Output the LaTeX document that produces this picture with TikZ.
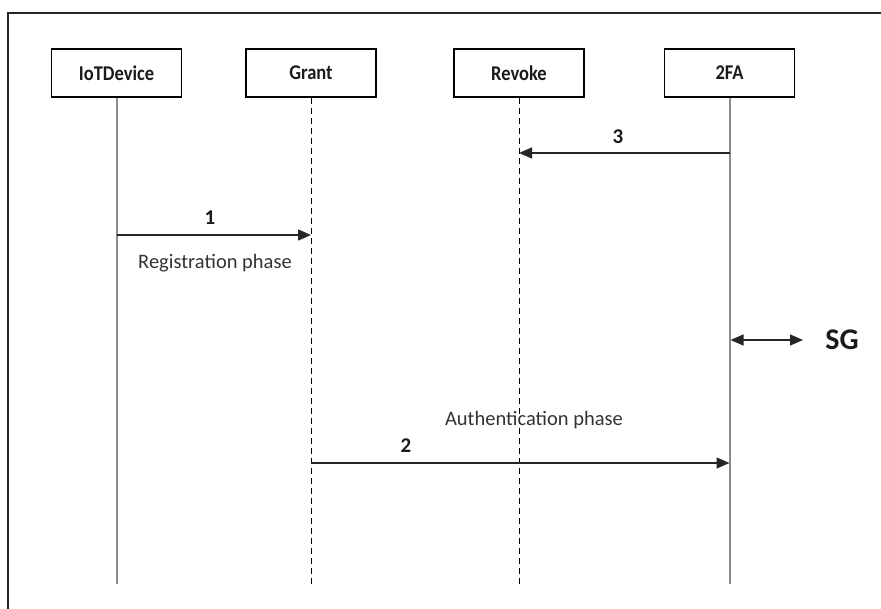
\documentclass[tikz,border=0pt]{standalone}
\usepackage{fontspec}
\setmainfont{Carlito}
\usetikzlibrary{arrows.meta}
\definecolor{txt}{HTML}{1A1A1A}
\definecolor{lifegray}{HTML}{8C8C8C}
\newcommand{\narrowtxt}[1]{\scalebox{0.88}[1]{#1}}
\tikzset{
  actor/.style={draw=black, line width=1.4pt, minimum width=130pt, minimum height=48pt, inner sep=0pt,
    font=\fontsize{21}{25}\selectfont\bfseries, text=txt},
  solidlife/.style={draw=lifegray, line width=2pt},
  dashlife/.style={draw=black, line width=1pt, dash pattern=on 6pt off 4pt},
  msg/.style={draw=black!85, line width=1.5pt, -{Triangle[length=13pt,width=11pt]}},
  dmsg/.style={draw=black!85, line width=1.5pt, {Triangle[length=13pt,width=11pt]}-{Triangle[length=13pt,width=11pt]}},
  numlab/.style={font=\fontsize{21}{25}\selectfont\bfseries, text=txt, inner sep=0pt},
  phaselab/.style={font=\fontsize{20.5}{24}\selectfont, text=black!80, inner sep=0pt},
  frameline/.style={draw=black!85, line width=1.5pt}
}
\begin{document}
\begin{tikzpicture}[x=1pt,y=-1pt]
\useasboundingbox (0,0) rectangle (881,609);
% outer frame (only top and left visible)
\draw[frameline] (890,13) -- (8,13) -- (8,620);
% actors
\node[actor] (iot) at (116.5,73) {\narrowtxt{IoTDevice}};
\node[actor] (grant) at (311,73) {\narrowtxt{Grant}};
\node[actor] (revoke) at (519,73) {\narrowtxt{Revoke}};
\node[actor] (tfa) at (729.5,73) {\narrowtxt{2FA}};
% lifeline ends
\coordinate (iotE) at (116.5,584);
\coordinate (grantE) at (311,584);
\coordinate (revokeE) at (519,584);
\coordinate (tfaE) at (729.5,584);
\draw[solidlife] (iot.south) -- (iotE);
\draw[dashlife] (grant.south) -- (grantE);
\draw[dashlife] (revoke.south) -- (revokeE);
\draw[solidlife] (tfa.south) -- (tfaE);
% message points
\coordinate (m3a) at (729.5,153);
\coordinate (m3b) at (519,153);
\coordinate (m1a) at (116.5,235);
\coordinate (m1b) at (311,235);
\coordinate (sga) at (730.5,340);
\coordinate (sgb) at (803,340);
\coordinate (m2a) at (311,463);
\coordinate (m2b) at (729.5,463);
% messages
\draw[msg] (m3a) -- (m3b);
\draw[msg] (m1a) -- (m1b);
\draw[dmsg] (sga) -- (sgb);
\draw[msg] (m2a) -- (m2b);
% labels
\node[numlab] (l3) at (618,137) {3};
\node[numlab] (l1) at (210,218) {1};
\node[numlab] (l2) at (406,446) {2};
\node[phaselab] (reg) at (215,263) {Registration phase};
\node[phaselab] (auth) at (534,420) {Authentication phase};
\node[font=\fontsize{30}{34}\selectfont\bfseries, text=txt, inner sep=0pt] (sg) at (842,340) {SG};
\end{tikzpicture}
\end{document}
